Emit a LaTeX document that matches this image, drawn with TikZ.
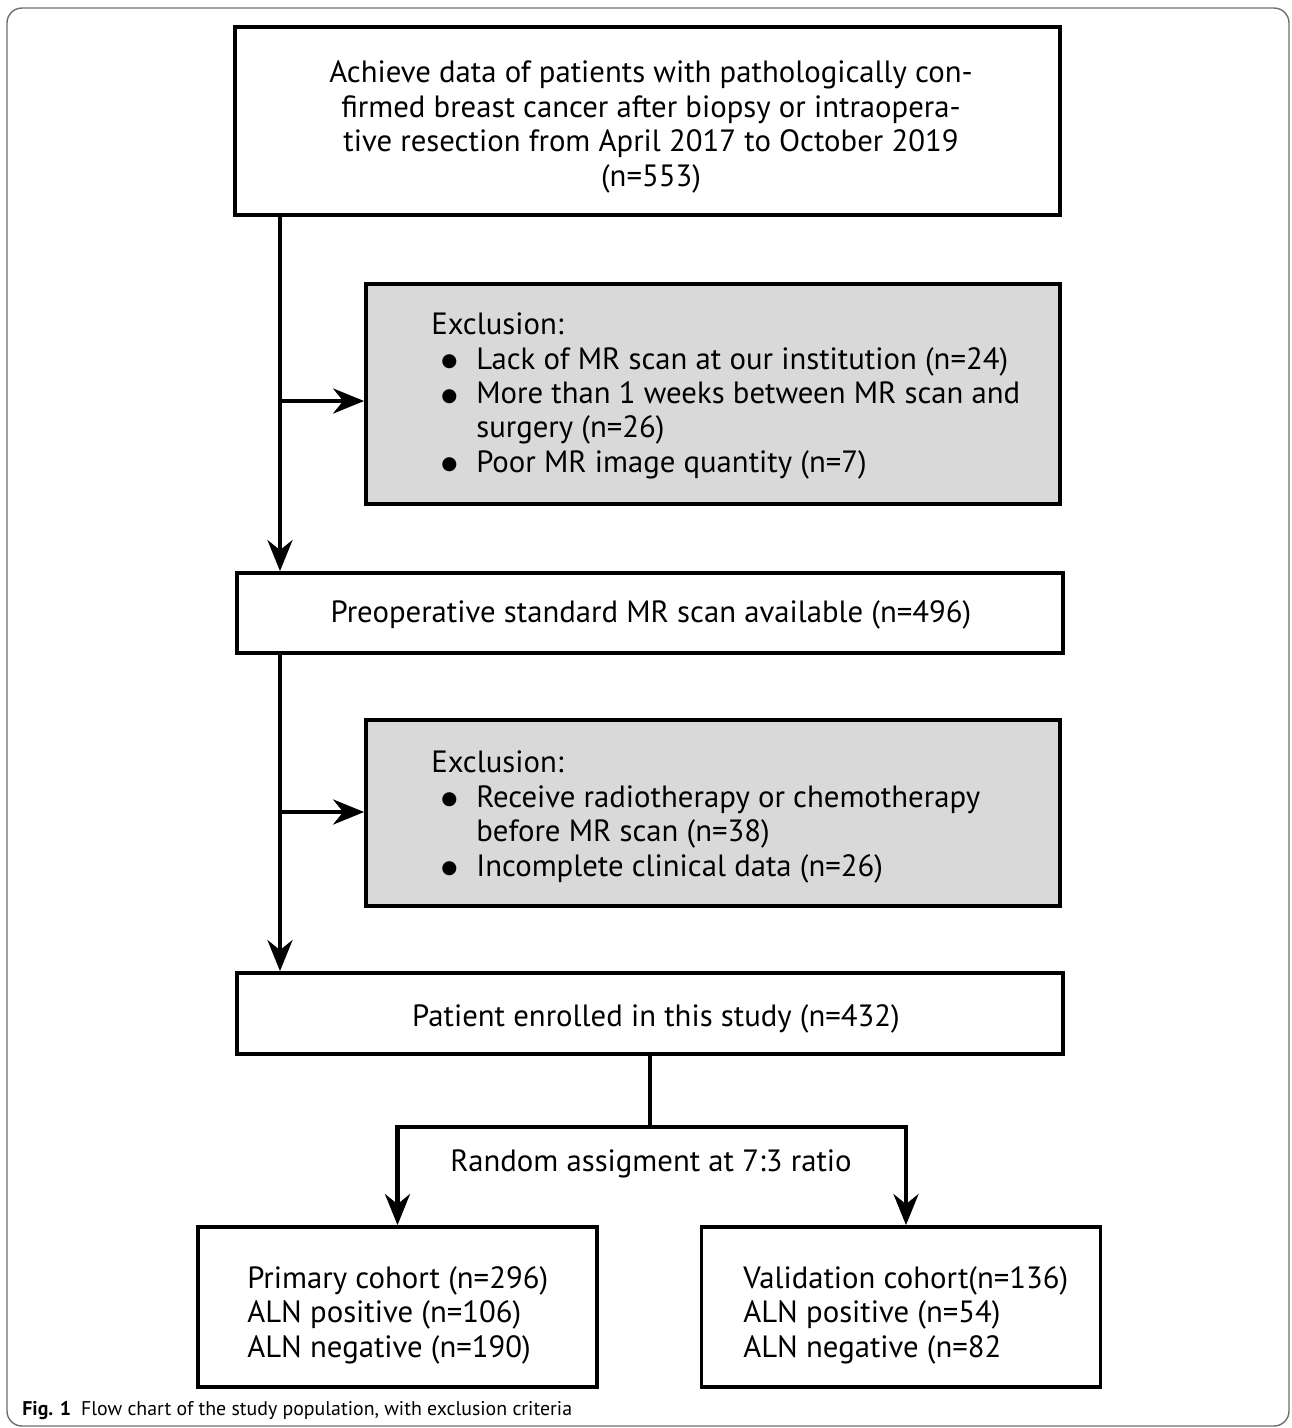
\documentclass[tikz,border=0pt]{standalone}
\usepackage{fontspec}
\setmainfont{PT Sans}
\newfontfamily\symfont{DejaVu Sans}
\usepackage{tikz}
\usetikzlibrary{positioning, arrows.meta, calc}
\definecolor{exclgrey}{RGB}{217, 217, 217}
\definecolor{framegrey}{RGB}{110, 110, 110}
\newcommand{\exclbullet}{\hspace*{0.2cm}\makebox[0.7cm][l]{\raisebox{0.08em}{\symfont\fontsize{10.5}{12}\selectfont ●}}}

\begin{document}
\begin{tikzpicture}[x=0.02cm, y=-0.02cm, >={Stealth[length=0.62cm, width=0.5cm, inset=0.2cm]},
    every node/.style={font=\fontsize{17.5}{19.6}\selectfont},
    flowbox/.style={draw, rectangle, line width=2.2pt, inner sep=0pt},
    exclbox/.style={flowbox, fill=exclgrey, minimum width=13.88cm},
    cohortbox/.style={flowbox, minimum width=7.98cm, minimum height=3.2cm},
    flowline/.style={line width=2.4pt}]
    \useasboundingbox (0,0) rectangle (1292,1428);
    \draw [framegrey, line width=0.8pt, rounded corners=0.3cm] (7,8) rectangle (1289,1426);

    % main column
    \node [flowbox, minimum width=16.5cm, minimum height=3.76cm] (src) at (647.5,121) {};
    \node [align=center, inner sep=0pt] (srctxt) at (651,127) {
        Achieve data of patients with pathologically con-\\
        firmed breast cancer after biopsy or intraopera-\\
        tive resection from April 2017 to October 2019\\
        (n=553)
    };
    \node [exclbox, minimum height=4.4cm] (excl1) at (713,394) {};
    \node [anchor=west, align=left, inner sep=0pt] (excl1txt) at (431,396) {
        Exclusion:\\
        \exclbullet Lack of MR scan at our institution (n=24)\\
        \exclbullet More than 1 weeks between MR scan and\\
        \hspace*{0.9cm}surgery (n=26)\\
        \exclbullet Poor MR image quantity (n=7)
    };
    \node [flowbox, minimum width=16.52cm, minimum height=1.6cm] (avail) at (650,613) {};
    \node (availtxt) at (651,615) {Preoperative standard MR scan available (n=496)};
    \node [exclbox, minimum height=3.72cm] (excl2) at (713,813) {};
    \node [anchor=west, align=left, inner sep=0pt] (excl2txt) at (431,817) {
        Exclusion:\\
        \exclbullet Receive radiotherapy or chemotherapy\\
        \hspace*{0.9cm}before MR scan (n=38)\\
        \exclbullet Incomplete clinical data (n=26)
    };
    \node [flowbox, minimum width=16.52cm, minimum height=1.62cm] (enrol) at (650,1013.5) {};
    \node (enroltxt) at (656,1019) {Patient enrolled in this study (n=432)};

    % cohorts
    \node (rand) at (651,1164) {Random assigment at 7:3 ratio};
    \node [cohortbox] (prim) at (397.5,1307) {};
    \node [anchor=west, align=left, inner sep=0pt] (primtxt) at (247,1315) {
        Primary cohort (n=296)\\
        ALN positive (n=106)\\
        ALN negative (n=190)
    };
    \node [cohortbox] (valid) at (901,1307) {};
    \node [anchor=west, align=left, inner sep=0pt] (validtxt) at (743,1315) {
        Validation cohort(n=136)\\
        ALN positive (n=54)\\
        ALN negative (n=82
    };

    \node [anchor=west, inner sep=0pt, font=\fontsize{11.3}{13}\selectfont] (caption) at (22,1411) {\textbf{Fig. 1}\enspace Flow chart of the study population, with exclusion criteria};

    % connectors
    \coordinate (trunk) at (280,0);
    \coordinate (br1) at (280,401);
    \coordinate (br2) at (280,812);
    \draw [flowline, ->] (src.south -| trunk) -- (avail.north -| trunk);
    \draw [flowline, ->] (br1) -- (br1 -| excl1.west);
    \draw [flowline, ->] (avail.south -| trunk) -- (enrol.north -| trunk);
    \draw [flowline, ->] (br2) -- (br2 -| excl2.west);
    \draw [flowline] (enrol.south) -- ++(0,71) coordinate (split);
    \draw [flowline, ->] (split) -| (prim.north);
    \draw [flowline, ->] (split) -| ($(valid.north)+(5,0)$);
\end{tikzpicture}
\end{document}
